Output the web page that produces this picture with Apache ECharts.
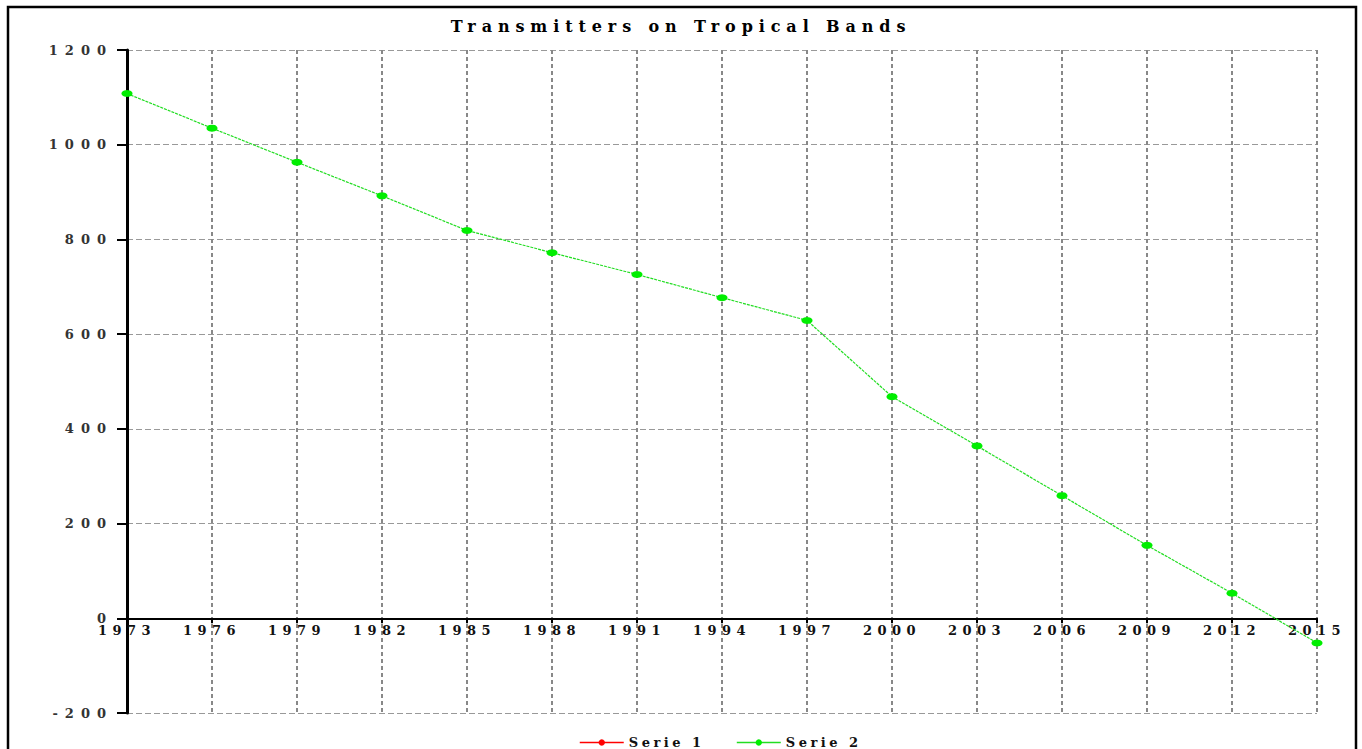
<!DOCTYPE html>
<html>
<head>
<meta charset="utf-8">
<script src="https://cdn.jsdelivr.net/npm/echarts@6/dist/echarts.min.js"></script>
<style>
html,body{margin:0;padding:0;background:#fff;}
#main{width:1362px;height:749px;}
</style>
</head>
<body>
<div id="main"></div>
<script>
const titleText = 'Transmitters on Tropical Bands';
const years = ['1973','1976','1979','1982','1985','1988','1991','1994','1997','2000','2003','2006','2009','2012','2015'];
const serie1 = [];
const serie2 = [1108,1035,963,892,819,772,726,677,629,468,364,259,154,53,-52];
const seriesNames = ['Serie 1','Serie 2'];
const yMin = -200, yMax = 1200, yStep = 200;

const font = '"DejaVu Serif","Liberation Serif",serif';
const chart = echarts.init(document.getElementById('main'), null, {renderer: 'svg'});
chart.setOption({
  animation: false,
  backgroundColor: '#fff',
  title: {
    text: titleText, left: 'center', top: 13,
    textStyle: {fontFamily: font, fontWeight: 'bold', fontSize: 16, color: '#000'}
  },
  graphic: [{
    type: 'rect', silent: true, z: 100,
    shape: {x: 8, y: 7, width: 1348, height: 780},
    style: {fill: 'none', stroke: '#000', lineWidth: 2.5}
  }],
  legend: {
    top: 731, left: 574, itemGap: 56, itemWidth: 44, itemHeight: 8,
    lineStyle: {type: 'solid', width: 1.5},
    textStyle: {fontFamily: font, fontWeight: 'bold', fontSize: 13, color: '#111'},
    data: seriesNames
  },
  grid: {left: 127, right: 45, top: 50, bottom: 36, containLabel: false},
  xAxis: {
    type: 'category', data: years, boundaryGap: false,
    axisLine: {onZero: false, lineStyle: {color: '#000', width: 2}},
    axisTick: {show: true, alignWithLabel: true, length: 5, lineStyle: {color: '#000', width: 2}},
    axisLabel: {fontFamily: font, fontWeight: 'bold', fontSize: 13, color: '#111', margin: 6, interval: 0},
    splitLine: {show: true, lineStyle: {color: '#888', type: [4, 3], width: 2}}
  },
  yAxis: {
    type: 'value', min: yMin, max: yMax, interval: yStep,
    axisLine: {show: true, lineStyle: {color: '#000', width: 3}},
    axisTick: {show: true, length: 10, lineStyle: {color: '#000', width: 2}},
    axisLabel: {fontFamily: font, fontWeight: 'bold', fontSize: 13, color: '#333', margin: 14,
      formatter: v => String(v)},
    splitLine: {show: true, lineStyle: {color: '#999', type: [6, 3], width: 1}}
  },
  series: [
    {
      name: seriesNames[0], type: 'line', data: serie1,
      color: '#ff0000', symbol: 'circle', symbolSize: [11, 7],
      lineStyle: {color: '#ff0000', width: 1, type: 'dotted'}
    },
    {
      name: seriesNames[1], type: 'line', data: serie2,
      color: '#00ee00', symbol: 'circle', symbolSize: [11, 7],
      itemStyle: {color: '#00ee00'},
      lineStyle: {color: '#22dd22', width: 1.2, type: [3, 1]}
    }
  ]
});
// move the category axis (line + labels) onto the zero line
const zeroY = chart.convertToPixel({yAxisIndex: 0}, 0);
const bottomY = chart.convertToPixel({yAxisIndex: 0}, yMin);
chart.setOption({xAxis: {offset: -(bottomY - zeroY)}});

function spaceText() {
  document.querySelectorAll('#main svg text').forEach(t => {
    const s = t.textContent.trim();
    let sp = 0;
    if (s === titleText) sp = 5.9;
    else if (seriesNames.indexOf(s) >= 0) sp = 3.5;
    else if (years.indexOf(s) >= 0) sp = 5.5;
    else if (/^-?\d+$/.test(s)) sp = 7;
    if (sp) t.setAttribute('letter-spacing', sp + 'px');
  });
}
chart.on('finished', spaceText);
setTimeout(spaceText, 50);
</script>
</body>
</html>
